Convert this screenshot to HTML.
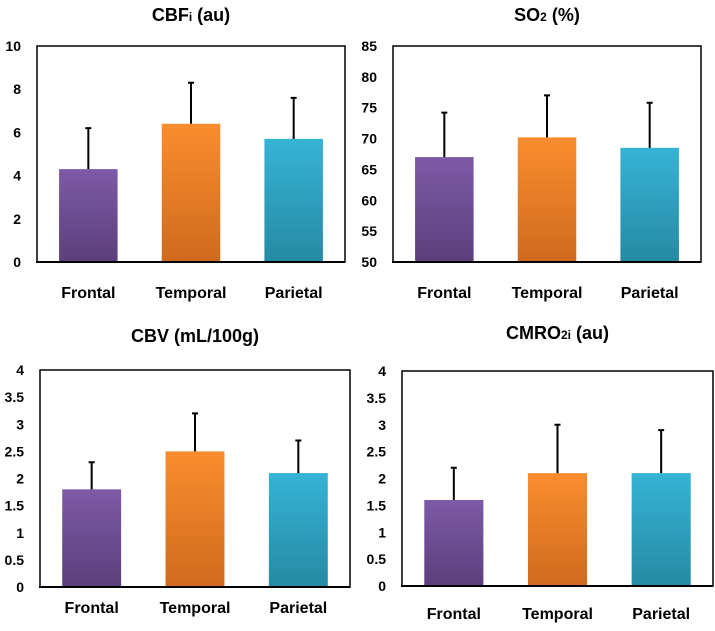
<!DOCTYPE html>
<html><head><meta charset="utf-8"><style>
body{margin:0;background:#fff;width:715px;height:626px;overflow:hidden}
svg text{font-family:"Liberation Sans",sans-serif;font-weight:bold;fill:#000}
</style></head><body>
<svg id="c" width="715" height="626">
<defs>
<linearGradient id="gp" x1="0" y1="0" x2="0" y2="1"><stop offset="0" stop-color="#7d5aa6"/><stop offset="1" stop-color="#5c3f7c"/></linearGradient>
<linearGradient id="go" x1="0" y1="0" x2="0" y2="1"><stop offset="0" stop-color="#fa8d2e"/><stop offset="1" stop-color="#cf6a1e"/></linearGradient>
<linearGradient id="gb" x1="0" y1="0" x2="0" y2="1"><stop offset="0" stop-color="#36b3d6"/><stop offset="1" stop-color="#268aa3"/></linearGradient>
</defs>
</svg>
<script>
const categories=["Frontal","Temporal","Parietal"];
const cbfMeans=[4.3,6.4,5.7];
const cbfErr=[1.9,1.9,1.9];
const so2Means=[67,70.2,68.5];
const so2Err=[7.2,6.8,7.3];
const cbvMeans=[1.8,2.5,2.1];
const cbvErr=[0.5,0.7,0.6];
const cmroMeans=[1.6,2.1,2.1];
const cmroErr=[0.6,0.9,0.8];
const cbfTicks=["0","2","4","6","8","10"];
const so2Ticks=["50","55","60","65","70","75","80","85"];
const halfTicks=["0","0.5","1","1.5","2","2.5","3","3.5","4"];
const NS="http://www.w3.org/2000/svg";
const svg=document.getElementById('c');
const fills=["url(#gp)","url(#go)","url(#gb)"];
function mk(t,a,p){const e=document.createElementNS(NS,t);for(const k in a)e.setAttribute(k,a[k]);(p||svg).appendChild(e);return e;}
function panel(id,title,sub,rest,L,T,R,B,min,max,ticks,means,errs,xlabY,titleY){
  const g=mk('g',{});
  
  
  const y=v=>B-(v-min)/(max-min)*(B-T);
  const w=R-L, bw=w*0.19;
  const t=mk('text',{x:(L+R)/2,y:titleY,'text-anchor':'middle','font-size':18},g);
  
  
  t.innerHTML=title+'<tspan font-size="12">'+sub+'</tspan> '+rest;
  const box=mk('rect',{x:L,y:T,width:w,height:B-T,fill:'none',stroke:'#000','stroke-width':1.5},g);
  
  
  ticks.forEach((tk,i)=>{
    const v=min+i*(max-min)/(ticks.length-1);
    const tx=mk('text',{x:L-16,y:y(v)+5,'text-anchor':'end','font-size':14},g);
    
    
    tx.textContent=tk;
  });
  categories.forEach((c,i)=>{
    const cx=L+w*(i*2+1)/6;
    const r=mk('rect',{x:cx-bw/2,y:y(means[i]),width:bw,height:B-y(means[i]),fill:fills[i]},g);
    
    
    const e=mk('path',{d:`M${cx},${y(means[i])}V${y(means[i]+errs[i])}M${cx-3},${y(means[i]+errs[i])}H${cx+3}`,stroke:'#000','stroke-width':2,fill:'none'},g);
    
    
    const l=mk('text',{x:cx,y:xlabY,'text-anchor':'middle','font-size':16},g);
    
    
    l.textContent=c;
  });
  mk('line',{x1:L-1,y1:B,x2:R,y2:B,stroke:'#000','stroke-width':2},g);
}
panel('cbf','CBF','i','(au)',37,46,345,262,0,10,cbfTicks,cbfMeans,cbfErr,298,21);
panel('so2','SO','2','(%)',393,46,701,262,50,85,so2Ticks,so2Means,so2Err,298,21);
panel('cbv','CBV','','(mL/100g)',40,370,350,587,0,4,halfTicks,cbvMeans,cbvErr,613,342);
panel('cmro2','CMRO','2i','(au)',402,371,713,586,0,4,halfTicks,cmroMeans,cmroErr,619,339);
</script>
</body></html>
